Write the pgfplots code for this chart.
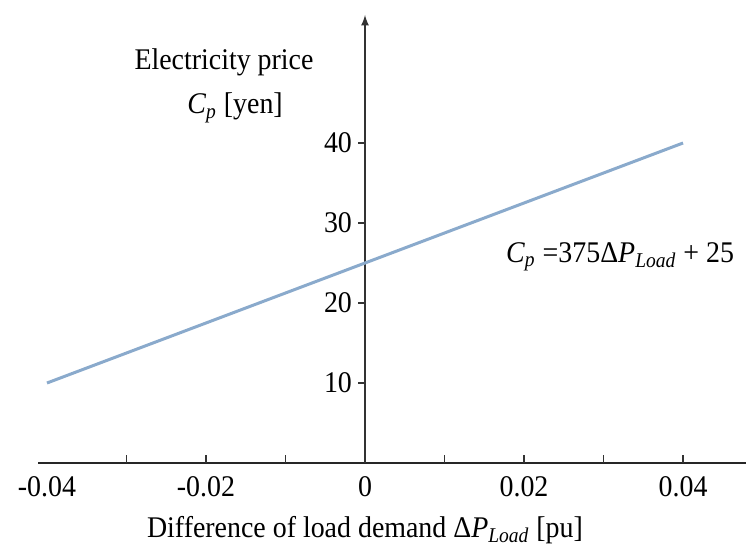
\documentclass[border=0pt]{standalone}
\usepackage{amsmath}
\usepackage{fontspec}
\setmainfont[FakeStretch=0.93]{Liberation Serif}
\usepackage{pgfplots}
\pgfplotsset{compat=1.18}
\usetikzlibrary{calc}

\definecolor{lineblue}{HTML}{8AAACC}
\newcommand{\sub}[1]{$_{\textit{#1}}$}

\begin{document}
\begin{tikzpicture}[font=\fontsize{15}{18}\selectfont]
\begin{axis}[
    scale only axis,
    width=354pt, height=224pt,
    xmin=-0.04113, xmax=0.04792,
    ymin=0, ymax=56,
    axis x line*=middle,
    axis y line=middle,
    x axis line style={line width=1.4pt, black!85},
    y axis line style={line width=0.8pt, black!80, -latex},
    scaled x ticks=false,
    hide obscured x ticks=false,
    xtick={-0.04,-0.02,0,0.02,0.04},
    xticklabels={-0.04,-0.02,0,0.02,0.04},
    ytick={10,20,30,40},
    yticklabels={10,20,30,40},
    major tick length=0pt,
    tick style={draw=none},
    xticklabel style={yshift=-3pt},
    yticklabel style={xshift=-3pt},
    clip=false,
]
% C_p = 375 dP + 25
\addplot[lineblue, line width=1.5pt] coordinates {(-0.04,10) (0.04,40)};

% tick marks: x ticks point up, y ticks point left
\pgfplotsinvokeforeach{-0.03,-0.02,-0.01,0.01,0.02,0.03,0.04}{
  \draw[black!80, line width=0.7pt] (axis cs:#1,0) -- ([yshift=4pt]axis cs:#1,0);
}
\pgfplotsinvokeforeach{10,20,30,40}{
  \draw[black!80, line width=0.8pt] (axis cs:0,#1) -- ([xshift=-3.5pt]axis cs:0,#1);
}

\node at (axis cs:-0.01774,50.1) {Electricity price};
\node at (axis cs:-0.01635,44.4) {\textit{C}\sub{p} [yen]};
\node at (axis cs:0.03208,25.75) {\textit{C}\sub{p} =375Δ\textit{P}\sub{Load} + 25};
\node at (axis cs:0,-8.4) {Difference of load demand Δ\textit{P}\sub{Load} [pu]};

\coordinate (sw) at (rel axis cs:0,0);
\coordinate (ne) at (rel axis cs:1,1);
\end{axis}
\pgfresetboundingbox
\useasboundingbox ($(sw)+(-19pt,-46.5pt)$) rectangle ($(ne)+(0,7.5pt)$);
\end{tikzpicture}
\end{document}
